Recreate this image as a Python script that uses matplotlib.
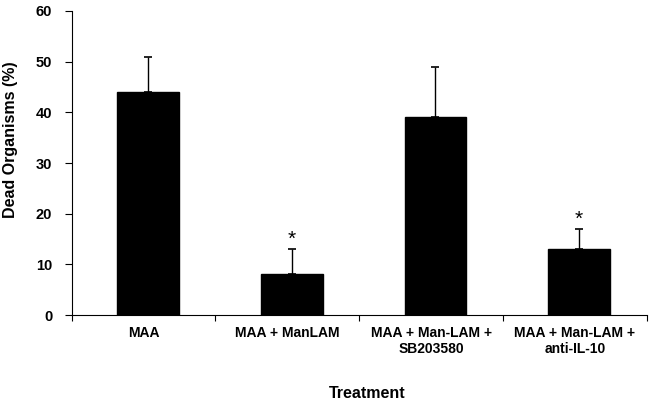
import numpy as np
import matplotlib.pyplot as plt

plt.rcParams['font.family'] = ['Liberation Sans', 'DejaVu Sans']
plt.rcParams['font.weight'] = 'bold'

# data
perlakuan = ['MAA', 'MAA + ManLAM', 'MAA + Man-LAM +\nSB203580', 'MAA + Man-LAM +\nanti-IL-10']
organisme_mati = [44, 8, 39, 13]
galat = [7, 5, 10, 4]
signifikan = [False, True, False, True]

fig = plt.figure(figsize=(6.64, 4.07), dpi=100)
ax = fig.add_axes([0.108, 0.226, 0.866, 0.747])

x = np.arange(len(perlakuan))
geser = 0.03
ax.bar(x + geser, organisme_mati, width=0.43, color='black', edgecolor='black')
ax.errorbar(x + geser, organisme_mati, yerr=[np.zeros(len(galat)), galat], fmt='none',
            ecolor='black', elinewidth=1, capsize=3, capthick=1.2)

for i in range(len(perlakuan)):
    if signifikan[i]:
        ax.text(x[i] + geser, organisme_mati[i] + galat[i], '*', ha='center', va='bottom',
                fontsize=15, fontweight='normal')

ax.set_xlim(-0.5, len(perlakuan) - 0.5)
ax.set_ylim(0, 60)
ax.set_yticks(np.arange(0, 61, 10))
ax.set_xticks(np.arange(-0.5, len(perlakuan), 1.0))
ax.set_xticklabels([])
ax.set_xticks(x, minor=True)
ax.set_xticklabels(perlakuan, minor=True, fontsize=10, fontweight='bold')
ax.tick_params(axis='x', which='minor', length=0, pad=8)
ax.tick_params(axis='x', which='major', length=4, direction='out')
ax.tick_params(axis='y', length=5, direction='out', labelsize=10.5, pad=9)
for lbl in ax.get_yticklabels():
    lbl.set_fontweight('bold')

ax.spines['top'].set_visible(False)
ax.spines['right'].set_visible(False)
ax.set_ylabel('Dead Organisms (%)', fontsize=11.5, fontweight='bold')
ax.yaxis.set_label_coords(-0.094, 0.576)
ax.set_xlabel('Treatment', fontsize=11.5, fontweight='bold', labelpad=19)
ax.xaxis.set_label_coords(0.513, -0.235)

fig.savefig('out.png', dpi=100)
